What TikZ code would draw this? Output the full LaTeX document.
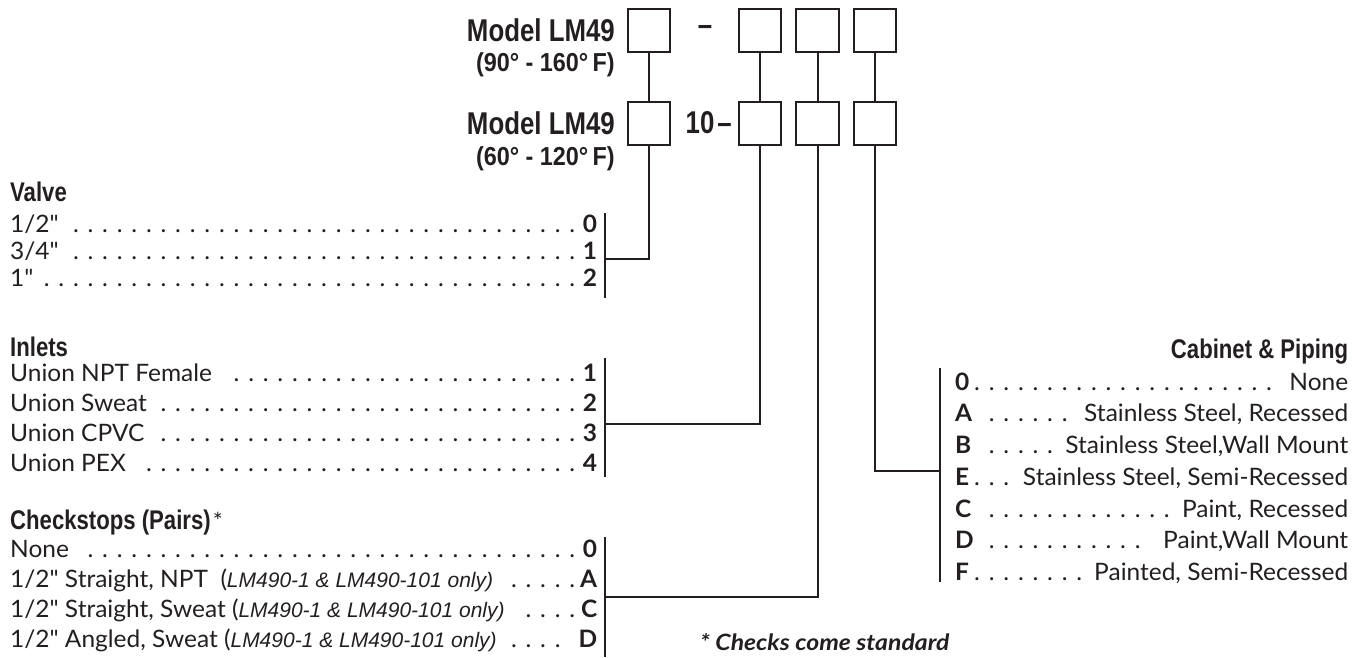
\documentclass[tikz,border=0pt]{standalone}
\usepackage{fontspec}
\setmainfont{Lato}
\newfontfamily\gillfont{Lato}[FakeStretch=1.02]
\newfontfamily\footfont{Lato}[FakeStretch=1.1]
\newfontfamily\condfont{Liberation Sans}[FakeStretch=0.82]
\newfontfamily\rangefont{Liberation Sans}[FakeStretch=0.9]
\newfontfamily\helvfont{Liberation Sans}
\definecolor{ink}{RGB}{35,31,32}
\newcommand\dotlead{\leaders\hbox to 14.6pt{\hss.\hss}\hfill}
\newcommand\lrow[2]{\hbox to 587pt{#1\dotlead\textbf{#2}}}
\newcommand\crow[2]{\hbox to 393pt{\textbf{#1}\dotlead #2}}
\newcommand\modelnote[1]{{\helvfont\itshape\fontsize{21}{22}\selectfont #1}}
\begin{document}
\begin{tikzpicture}[x=1pt,y=-1pt,
  codebox/.style={draw=ink, line width=2pt, minimum width=42.5pt, minimum height=42.5pt, inner sep=0pt},
  wire/.style={draw=ink, line width=2pt},
  rowtext/.style={anchor=base west, inner sep=0pt, text=ink, font=\gillfont\fontsize{24}{25}\selectfont},
  heading/.style={anchor=base west, inner sep=0pt, text=ink, font=\condfont\bfseries\fontsize{27}{28}\selectfont},
  modellbl/.style={anchor=base east, inner sep=0pt, text=ink, font=\condfont\bfseries\fontsize{31.5}{32}\selectfont},
  rangelbl/.style={anchor=base east, inner sep=0pt, text=ink, font=\rangefont\bfseries\fontsize{26}{27}\selectfont}]
\useasboundingbox (0,0) rectangle (1366,658);

% model labels
\node[modellbl] (m1) at (615,41.7) {Model LM49};
\node[rangelbl] (r1) at (615,71.7) {(90° - 160°\,F)};
\node[modellbl] (m2) at (615,134.3) {Model LM49};
\node[rangelbl] (r2) at (615,165) {(60° - 120°\,F)};
\node[modellbl, anchor=base] (d1) at (705,35.6) {–};
\node[modellbl] (d2) at (732,133.5) {10\kern3pt–};

% code boxes
\node[codebox] (t1) at (649,30.3) {};
\node[codebox] (t2) at (760,30.3) {};
\node[codebox] (t3) at (817.5,30.3) {};
\node[codebox] (t4) at (875.2,30.3) {};
\node[codebox] (b1) at (649,123.3) {};
\node[codebox] (b2) at (760,123.3) {};
\node[codebox] (b3) at (817.5,123.3) {};
\node[codebox] (b4) at (875.2,123.3) {};
\draw[wire] (t1) -- (b1);
\draw[wire] (t2) -- (b2);
\draw[wire] (t3) -- (b3);
\draw[wire] (t4) -- (b4);

% headings
\node[heading] (hv) at (10,201.7) {Valve};
\node[heading] (hi) at (10,356.7) {Inlets};
\node[heading] (hc) at (10,529) {Checkstops (Pairs)\kern2pt{\gillfont\mdseries\fontsize{23}{24}\selectfont *}};
\node[heading, anchor=base east] (hk) at (1348.3,358.3) {Cabinet \& Piping};

% valve
\node[rowtext] (v0) at (10,232) {\lrow{1/2"}{0}};
\node[rowtext] (v1) at (10,259) {\lrow{3/4"}{1}};
\node[rowtext] (v2) at (10,286.5) {\lrow{1"}{2}};
% inlets
\node[rowtext] (i1) at (10,381) {\lrow{Union NPT Female }{1}};
\node[rowtext] (i2) at (10,411) {\lrow{Union Sweat }{2}};
\node[rowtext] (i3) at (10,441) {\lrow{Union CPVC }{3}};
\node[rowtext] (i4) at (10,471) {\lrow{Union PEX }{4}};
% checkstops
\node[rowtext] (c0) at (10,557) {\lrow{None }{0}};
\node[rowtext] (c1) at (10,587) {\lrow{1/2" Straight, NPT\ \ (\modelnote{LM490-1 \& LM490-101 only)} }{A}};
\node[rowtext] (c2) at (10,617) {\lrow{1/2" Straight, Sweat\ (\modelnote{LM490-1 \& LM490-101 only)} }{C}};
\node[rowtext] (c3) at (10,647) {\lrow{1/2" Angled, Sweat\ (\modelnote{LM490-1 \& LM490-101 only)} }{D}};
% cabinet
\node[rowtext] (k0) at (955,390) {\crow{0}{ None}};
\node[rowtext] (k1) at (955,421.75) {\crow{A}{ Stainless Steel, Recessed}};
\node[rowtext] (k2) at (955,453.5) {\crow{B}{ Stainless Steel,Wall Mount}};
\node[rowtext] (k3) at (955,485.25) {\crow{E}{ Stainless Steel, Semi-Recessed}};
\node[rowtext] (k4) at (955,517) {\crow{C}{ Paint, Recessed}};
\node[rowtext] (k5) at (955,548.75) {\crow{D}{ Paint,Wall Mount}};
\node[rowtext] (k6) at (955,580.5) {\crow{F}{ Painted, Semi-Recessed}};

% bars
\coordinate (vtop) at (605,213);   \coordinate (vbot) at (605,298.3);
\coordinate (itop) at (605,358);   \coordinate (ibot) at (605,476.7);
\coordinate (ctop) at (605,536.7); \coordinate (cbot) at (605,656.7);
\coordinate (ktop) at (940,368.3); \coordinate (kbot) at (940,582.3);
\draw[wire] (vtop) -- (vbot);
\draw[wire] (itop) -- (ibot);
\draw[wire] (ctop) -- (cbot);
\draw[wire] (ktop) -- (kbot);
\coordinate (vj) at (605,259.3);
\coordinate (ij) at (605,424);
\coordinate (cj) at (605,597.3);
\coordinate (kj) at (940,470.7);
\draw[wire] (b1.south) |- (vj);
\draw[wire] (b2.south) |- (ij);
\draw[wire] (b3.south) |- (cj);
\draw[wire] (b4.south) |- (kj);

% footnote
\node[anchor=base west, inner sep=0pt, text=ink, font=\footfont\bfseries\itshape\fontsize{22.5}{23}\selectfont] (fn) at (700,650) {* Checks come standard};
\end{tikzpicture}
\end{document}
